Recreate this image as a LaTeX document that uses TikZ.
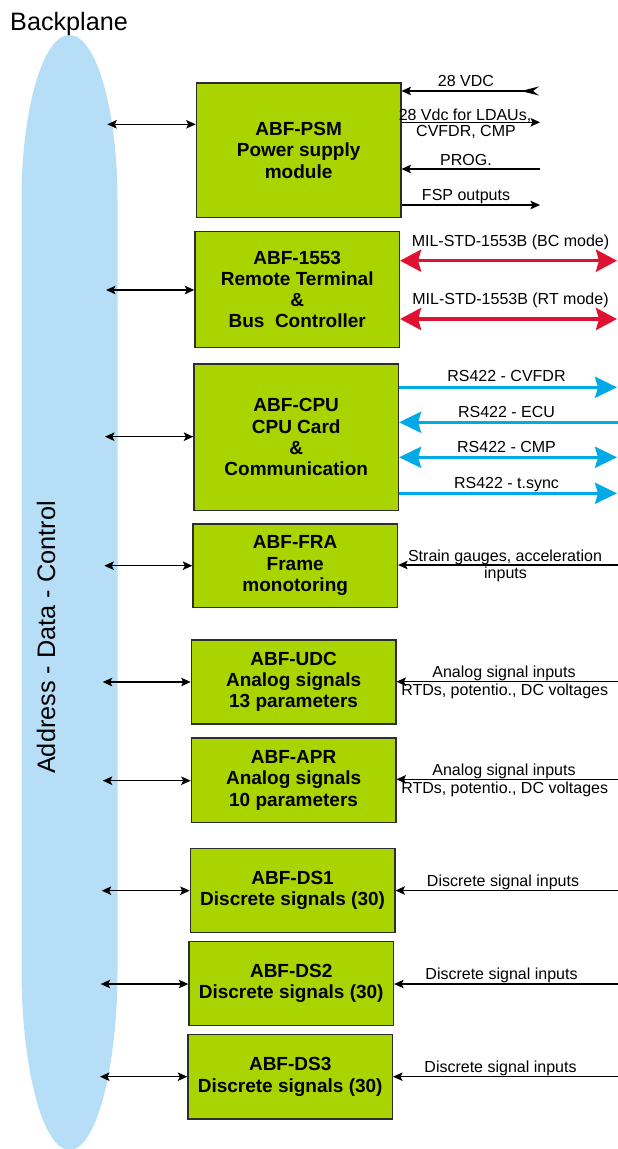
\documentclass[tikz,border=0pt]{standalone}
\usepackage{fontspec}
\setmainfont{Liberation Sans}
\usetikzlibrary{arrows.meta}
\definecolor{boxgreen}{RGB}{170,212,0}
\definecolor{boxline}{RGB}{45,45,45}
\definecolor{bpblue}{RGB}{182,222,247}
\definecolor{busred}{RGB}{224,18,50}
\definecolor{rsblue}{RGB}{0,170,230}
\begin{document}
\begin{tikzpicture}[x=1pt,y=-1pt,
  box/.style={draw=boxline, line width=1.3pt, fill=boxgreen, minimum width=204.5pt,
    anchor=north west, align=center, inner sep=0pt,
    font=\fontsize{19}{21.3}\selectfont\bfseries},
  link/.style={line width=1.2pt, black, {Stealth[length=9.5pt,width=8.5pt,inset=2pt]}-{Stealth[length=9.5pt,width=8.5pt,inset=2pt]}},
  sig/.style={line width=1.2pt, black},
  lbl/.style={font=\fontsize{16}{17}\selectfont, inner sep=0pt, anchor=base},
  redbus/.style={line width=3.5pt, busred, {Stealth[length=21pt,width=22pt,inset=3pt]}-{Stealth[length=21pt,width=22pt,inset=3pt]}},
  rsline/.style={line width=3pt, rsblue}
]
\useasboundingbox (0,0) rectangle (618,1149);

% backplane
\fill[bpblue] (69.5,35) .. controls (43,35) and (21.5,109) .. (21.5,200)
  -- (21.5,970) .. controls (21.5,1069) and (43,1150) .. (69.5,1150)
  .. controls (96,1150) and (117.5,1069) .. (117.5,970)
  -- (117.5,200) .. controls (117.5,109) and (96,35) .. (69.5,35) -- cycle;
\node[anchor=base west, inner sep=0pt, font=\fontsize{25.2}{29}\selectfont] (bptitle) at (10,30.5) {Backplane};
\node[rotate=90, anchor=base, inner sep=0pt, font=\fontsize{25.3}{29}\selectfont] (adc) at (55,637.5) {Address - Data - Control};

% boxes
\node[box, minimum height=134.7pt] (psm) at (195.7,82.3) {ABF-PSM\\Power supply\\module};
\node[box, minimum height=116.3pt] (m1553) at (194.3,230.7) {ABF-1553\\Remote Terminal\\\&\\Bus\ \ Controller};
\node[box, minimum height=146.7pt] (cpu) at (193.3,363.3) {ABF-CPU\\CPU Card\\\&\\Communication};
\node[box, minimum height=83.4pt] (fra) at (192.3,523.3) {ABF-FRA\\Frame\\monotoring};
\node[box, minimum height=84pt] (udc) at (190.7,639.3) {ABF-UDC\\Analog signals\\13 parameters};
\node[box, minimum height=84.4pt] (apr) at (190.7,737.3) {ABF-APR\\Analog signals\\10 parameters};
\node[box, minimum height=83.7pt] (ds1) at (189.7,848) {ABF-DS1\\Discrete signals (30)};
\node[box, minimum height=84.3pt] (ds2) at (188.3,940.7) {ABF-DS2\\Discrete signals (30)};
\node[box, minimum height=84.3pt] (ds3) at (187.3,1034) {ABF-DS3\\Discrete signals (30)};

% backplane links
\coordinate (b1) at (107.3,124.3);
\coordinate (b2) at (106,290);
\coordinate (b3) at (105,436.7);
\coordinate (b4) at (104.3,565.7);
\coordinate (b5) at (102.7,682);
\coordinate (b6) at (102.7,780.7);
\coordinate (b7) at (101.7,890.7);
\coordinate (b8) at (100.7,984);
\coordinate (b9) at (100,1076.7);
\draw[link] (b1) -- (psm.west |- b1);
\draw[link] (b2) -- (m1553.west |- b2);
\draw[link] (b3) -- (cpu.west |- b3);
\draw[link] (b4) -- (fra.west |- b4);
\draw[link] (b5) -- (udc.west |- b5);
\draw[link] (b6) -- (apr.west |- b6);
\draw[link] (b7) -- (ds1.west |- b7);
\draw[link] (b8) -- (ds2.west |- b8);
\draw[link] (b9) -- (ds3.west |- b9);

% PSM signals
\coordinate (p1) at (539,91);
\coordinate (p2) at (540,122.3);
\coordinate (p3) at (540,169);
\coordinate (p4) at (540,205);
\draw[sig, {Stealth[length=9.5pt,width=8.5pt,inset=2pt]}-{Stealth[length=18pt,width=9pt,inset=6pt,reversed]}] (psm.east |- p1) -- (p1);
\draw[sig, -{Stealth[length=9.5pt,width=8.5pt,inset=2pt]}] (psm.east |- p2) -- (p2);
\draw[sig, {Stealth[length=9.5pt,width=8.5pt,inset=2pt]}-] (psm.east |- p3) -- (p3);
\draw[sig, -{Stealth[length=9.5pt,width=8.5pt,inset=2pt]}] (psm.east |- p4) -- (p4);
\node[lbl] (l1) at (466,86.7) {28 VDC};
\node[lbl] (l2a) at (465,120) {28 Vdc for LDAUs,};
\node[lbl] (l2b) at (466,136.7) {CVFDR, CMP};
\node[lbl] (l3) at (466,165.5) {PROG.};
\node[lbl] (l4) at (466,200.5) {FSP outputs};

% 1553 buses
\coordinate (r1) at (617,260.7);
\coordinate (r2) at (617,319);
\draw[redbus] (m1553.east |- r1) -- (r1);
\draw[redbus] (m1553.east |- r2) -- (r2);
\node[lbl] (lr1) at (510.5,246.7) {MIL-STD-1553B (BC mode)};
\node[lbl] (lr2) at (510.5,304) {MIL-STD-1553B (RT mode)};

% CPU RS422
\coordinate (c1) at (617,387.3);
\coordinate (c2) at (618,422.3);
\coordinate (c3) at (617,457.3);
\coordinate (c4) at (617,493.3);
\draw[rsline, -{Stealth[length=22pt,width=21pt,inset=3pt]}] (cpu.east |- c1) -- (c1);
\draw[rsline, {Stealth[length=22pt,width=21pt,inset=3pt]}-] (cpu.east |- c2) -- (c2);
\draw[rsline, {Stealth[length=22pt,width=21pt,inset=3pt]}-{Stealth[length=22pt,width=21pt,inset=3pt]}] (cpu.east |- c3) -- (c3);
\draw[rsline, -{Stealth[length=22pt,width=21pt,inset=3pt]}] (cpu.east |- c4) -- (c4);
\node[lbl] (lc1) at (506.5,381.7) {RS422 - CVFDR};
\node[lbl] (lc2) at (506.5,417.3) {RS422 - ECU};
\node[lbl] (lc3) at (506.5,452.7) {RS422 - CMP};
\node[lbl] (lc4) at (506.5,488.3) {RS422 - t.sync};

% inputs
\coordinate (f1) at (618,565);
\coordinate (u1) at (618,681.7);
\coordinate (a1) at (618,779.3);
\coordinate (d1) at (618,890.5);
\coordinate (d2) at (618,984);
\coordinate (d3) at (618,1076.7);
\draw[sig, {Stealth[length=9.5pt,width=8.5pt,inset=2pt]}-] (fra.east |- f1) -- (f1);
\draw[sig, {Stealth[length=9.5pt,width=8.5pt,inset=2pt]}-] (udc.east |- u1) -- (u1);
\draw[sig, {Stealth[length=9.5pt,width=8.5pt,inset=2pt]}-] (apr.east |- a1) -- (a1);
\draw[sig, {Stealth[length=9.5pt,width=8.5pt,inset=2pt]}-] (ds1.east |- d1) -- (d1);
\draw[sig, {Stealth[length=9.5pt,width=8.5pt,inset=2pt]}-] (ds2.east |- d2) -- (d2);
\draw[sig, {Stealth[length=9.5pt,width=8.5pt,inset=2pt]}-] (ds3.east |- d3) -- (d3);
\node[lbl] (lf1) at (505,561.7) {Strain gauges, acceleration};
\node[lbl] (lf2) at (505.5,578.3) {inputs};
\node[lbl] (lu1) at (504,677.7) {Analog signal inputs};
\node[lbl] (lu2) at (504.7,695) {RTDs, potentio., DC voltages};
\node[lbl] (la1) at (504,775.7) {Analog signal inputs};
\node[lbl] (la2) at (504.7,793.3) {RTDs, potentio., DC voltages};
\node[lbl] (ld1) at (503,886) {Discrete signal inputs};
\node[lbl] (ld2) at (501.5,979) {Discrete signal inputs};
\node[lbl] (ld3) at (500.5,1072.3) {Discrete signal inputs};
\end{tikzpicture}
\end{document}
